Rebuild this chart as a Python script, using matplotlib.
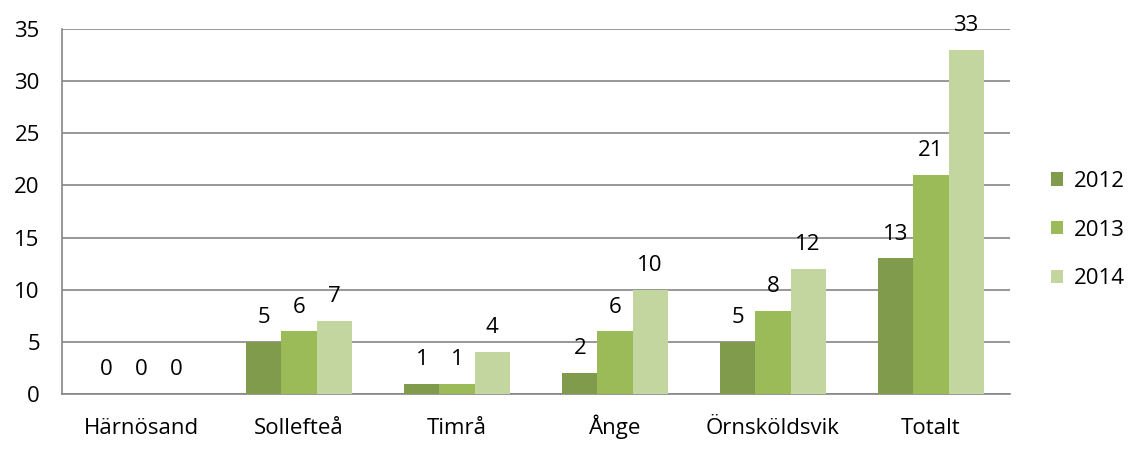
import numpy as np
import matplotlib.pyplot as plt

plt.rcParams['font.family'] = ['Open Sans', 'DejaVu Sans']

categories = ["Härnösand", "Sollefteå", "Timrå", "Ånge", "Örnsköldsvik", "Totalt"]
years = ["2012", "2013", "2014"]
values_2012 = [0, 5, 1, 2, 5, 13]
values_2013 = [0, 6, 1, 6, 8, 21]
values_2014 = [0, 7, 4, 10, 12, 33]
colors = ["#7F9B4B", "#9BBB59", "#C4D6A0"]

fig = plt.figure(figsize=(11.31, 4.51), dpi=100)
ax = fig.add_axes([62 / 1131, 57 / 451, 948 / 1131, 365 / 451])

x = np.arange(len(categories))
width = 0.222
series = [values_2012, values_2013, values_2014]
for i, (vals, yr, col) in enumerate(zip(series, years, colors)):
    bars = ax.bar(x + (i - 1) * width, vals, width, color=col, label=yr, zorder=3)
    ax.bar_label(bars, labels=[str(v) for v in vals], padding=10, fontsize=16)

ax.set_xlim(-0.5, len(categories) - 0.5)
ax.set_ylim(0, 35)
ax.set_yticks(range(0, 36, 5))
ax.set_xticks(x)
ax.set_xticklabels(categories, va="baseline")
ax.yaxis.grid(True, color="#868686", linewidth=1.2, zorder=0)
ax.tick_params(axis="y", length=0, pad=16, labelsize=16)
ax.tick_params(axis="x", length=0, pad=29, labelsize=16)
for s in ["top", "right"]:
    ax.spines[s].set_visible(False)
for s in ["left", "bottom"]:
    ax.spines[s].set_color("#868686")
    ax.spines[s].set_linewidth(1.2)

fig.legend(loc="center left", bbox_to_anchor=(1051 / 1131, 0.49), frameon=False,
           fontsize=16, handlelength=0.55, handleheight=0.55, handletextpad=0.5,
           labelspacing=1.25, borderpad=0, borderaxespad=0)

fig.savefig("out.png", dpi=100)
